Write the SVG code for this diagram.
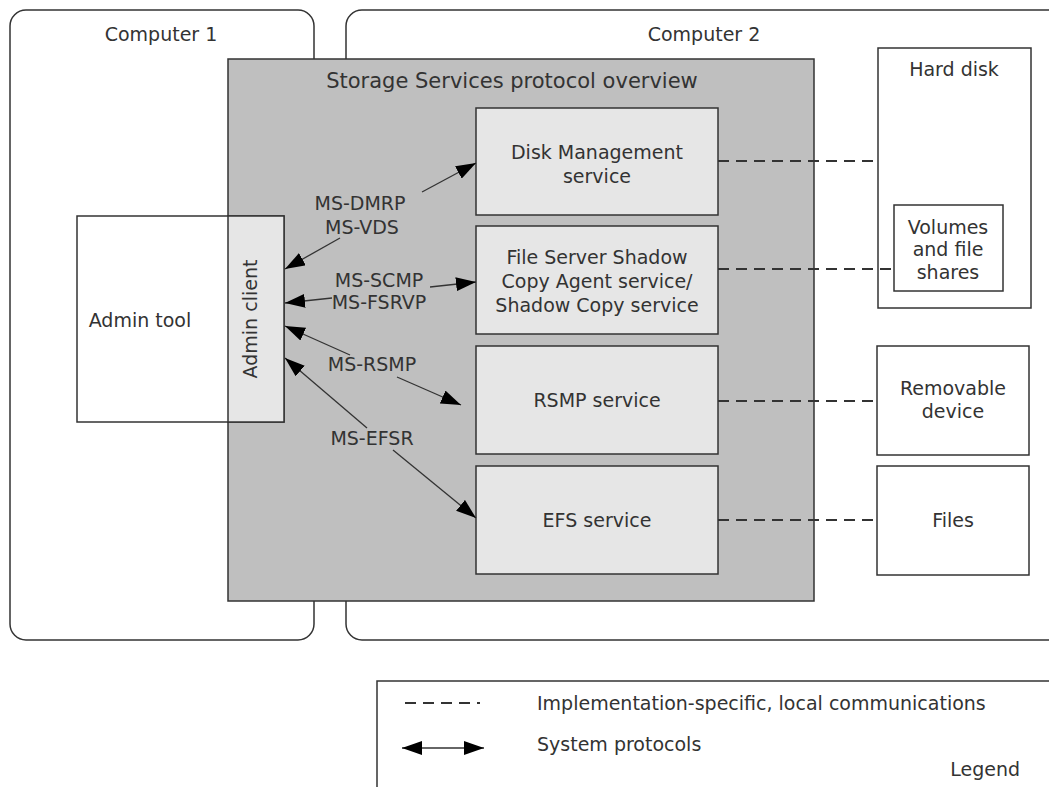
<svg xmlns="http://www.w3.org/2000/svg" width="1049" height="787" viewBox="0 0 1049 787">
<defs>
<style>
text{font-family:"DejaVu Sans",Verdana,sans-serif;font-size:19px;fill:#333}
.c{text-anchor:middle}
.box{fill:#fff;stroke:#333;stroke-width:1.5}
.svc{fill:#e6e6e6;stroke:#333;stroke-width:1.5}
.dash{stroke:#333;stroke-width:2;stroke-dasharray:11,7;fill:none}
.arr{stroke:#333;stroke-width:1.3;fill:none}
</style>
<marker id="ah" viewBox="0 0 20 14" refX="20" refY="7" markerWidth="20" markerHeight="14" markerUnits="userSpaceOnUse" orient="auto-start-reverse">
<path d="M0,0 L20,7 L0,14 Z" fill="#000"/>
</marker>
</defs>
<rect width="1049" height="787" fill="#fff"/>
<g id="computer1">
<rect x="10" y="10" width="304" height="630" rx="16" class="box"/>
<text x="161" y="41" class="c">Computer 1</text>
</g>
<g id="computer2">
<rect x="346" y="10" width="730" height="630" rx="16" class="box"/>
<text x="704" y="41" class="c">Computer 2</text>
</g>
<g id="storage">
<rect x="228" y="59" width="586" height="542" fill="#bfbfbf" stroke="#333" stroke-width="1.5"/>
<text x="512" y="88" class="c" style="font-size:21px">Storage Services protocol overview</text>
</g>
<g id="admintool">
<rect x="77" y="216" width="207" height="206" class="box"/>
<text x="140" y="327" class="c">Admin tool</text>
</g>
<g id="adminclient">
<rect x="228" y="216" width="56" height="206" class="svc"/>
<text transform="translate(257,319) rotate(-90)" class="c">Admin client</text>
</g>
<g id="diskmgmt">
<rect x="476" y="108" width="242" height="107" class="svc"/>
<text x="597" y="159" class="c">Disk Management</text>
<text x="597" y="183" class="c">service</text>
</g>
<g id="fileserver">
<rect x="476" y="226" width="242" height="108" class="svc"/>
<text x="597" y="264" class="c">File Server Shadow</text>
<text x="597" y="288" class="c">Copy Agent service/</text>
<text x="597" y="312" class="c">Shadow Copy service</text>
</g>
<g id="rsmp">
<rect x="476" y="346" width="242" height="108" class="svc"/>
<text x="597" y="407" class="c">RSMP service</text>
</g>
<g id="efs">
<rect x="476" y="466" width="242" height="108" class="svc"/>
<text x="597" y="527" class="c">EFS service</text>
</g>
<g id="harddisk">
<rect x="878" y="48" width="153" height="260" class="box"/>
<text x="954" y="76" class="c">Hard disk</text>
</g>
<g id="volumes">
<rect x="894" y="205" width="109" height="86" class="box"/>
<text x="948" y="234" class="c">Volumes</text>
<text x="948" y="256" class="c">and file</text>
<text x="948" y="279" class="c">shares</text>
</g>
<g id="removable">
<rect x="877" y="346" width="152" height="109" class="box"/>
<text x="953" y="395" class="c">Removable</text>
<text x="953" y="418" class="c">device</text>
</g>
<g id="files">
<rect x="877" y="466" width="152" height="109" class="box"/>
<text x="953" y="527" class="c">Files</text>
</g>
<g id="connectors">
<line x1="718" y1="161" x2="878" y2="161" class="dash"/>
<line x1="718" y1="269" x2="894" y2="269" class="dash"/>
<line x1="718" y1="401" x2="877" y2="401" class="dash"/>
<line x1="718" y1="520" x2="877" y2="520" class="dash"/>
<line x1="340" y1="238" x2="285" y2="269" class="arr" marker-end="url(#ah)"/>
<line x1="422" y1="192" x2="476" y2="163" class="arr" marker-end="url(#ah)"/>
<text x="360" y="210" class="c">MS-DMRP</text>
<text x="362" y="234" class="c">MS-VDS</text>
<line x1="430" y1="287" x2="476" y2="282" class="arr" marker-end="url(#ah)"/>
<line x1="332" y1="298" x2="285" y2="303" class="arr" marker-end="url(#ah)"/>
<text x="379" y="287" class="c">MS-SCMP</text>
<text x="379" y="309" class="c">MS-FSRVP</text>
<line x1="350" y1="355" x2="285" y2="326" class="arr" marker-end="url(#ah)"/>
<line x1="397" y1="377" x2="461" y2="405" class="arr" marker-end="url(#ah)"/>
<text x="372" y="371" class="c">MS-RSMP</text>
<line x1="367" y1="428" x2="285" y2="358" class="arr" marker-end="url(#ah)"/>
<line x1="393" y1="450" x2="476" y2="518" class="arr" marker-end="url(#ah)"/>
<text x="372" y="445" class="c">MS-EFSR</text>
</g>
<g id="legend">
<rect x="377" y="681" width="700" height="130" class="box"/>
<line x1="405" y1="703" x2="480" y2="703" class="dash"/>
<text x="537" y="710">Implementation-specific, local communications</text>
<line x1="402" y1="748" x2="484" y2="748" class="arr" stroke-width="1.5" marker-start="url(#ah)" marker-end="url(#ah)"/>
<text x="537" y="751">System protocols</text>
<text x="1020" y="776" text-anchor="end">Legend</text>
</g>
</svg>
